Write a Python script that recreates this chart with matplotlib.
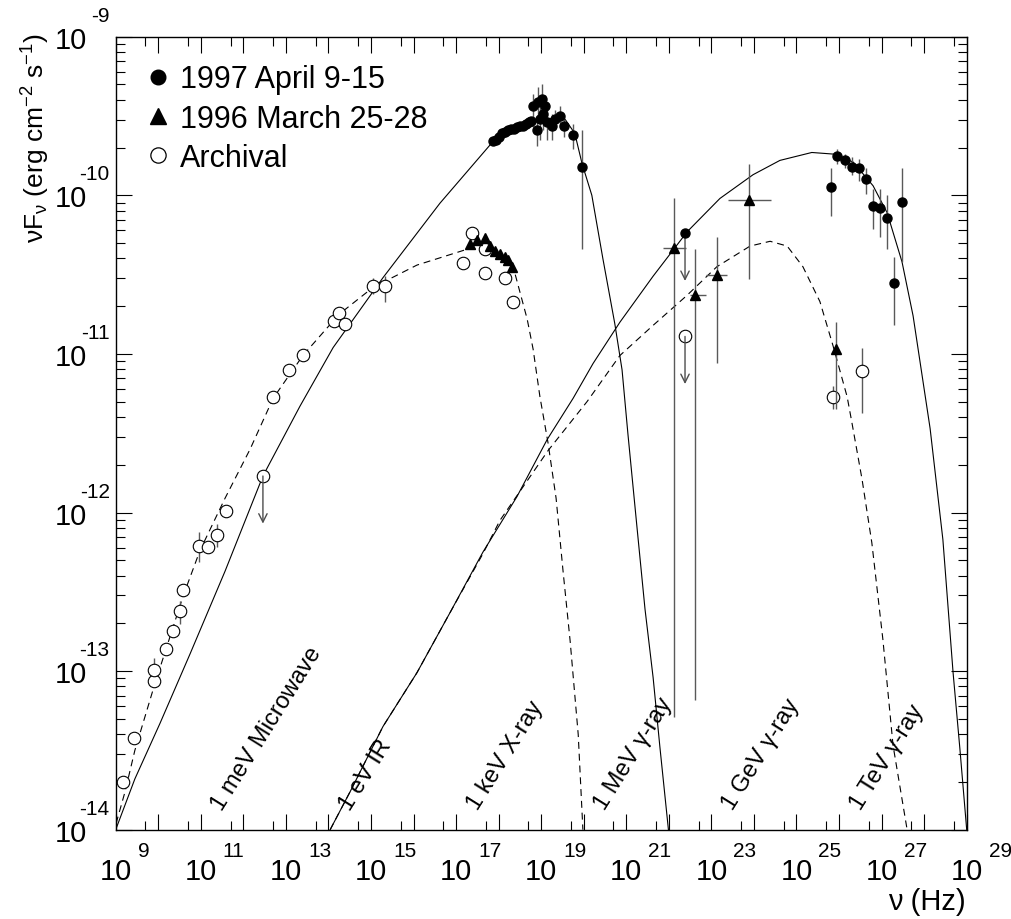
import numpy as np
import matplotlib
matplotlib.use('Agg')
import matplotlib.pyplot as plt
from matplotlib.lines import Line2D
from matplotlib.ticker import FixedLocator, NullFormatter

plt.rcParams['font.family'] = ['Liberation Sans', 'DejaVu Sans']
plt.rcParams['mathtext.fontset'] = 'custom'
plt.rcParams['mathtext.rm'] = 'Liberation Sans'
plt.rcParams['mathtext.default'] = 'regular'
plt.rcParams['lines.scale_dashes'] = False

# everything below is log10(nu [Hz]) and log10(nuFnu [erg cm-2 s-1])

# model curves
sync97_x = [9.00, 9.45, 10.04, 10.75, 11.57, 12.46, 13.33, 14.11, 15.28, 16.62, 17.87, 18.50, 18.97, 19.32,
            19.56, 19.79, 19.96, 20.19, 20.45, 20.73, 20.90, 21.04, 21.25, 21.44, 21.63, 21.79, 21.99]
sync97_y = [-14.00, -13.68, -13.33, -12.89, -12.37, -11.77, -11.33, -10.96, -10.52, -10.05, -9.66, -9.57, -9.53, -9.51,
            -9.52, -9.61, -9.80, -10.00, -10.40, -10.81, -11.10, -11.51, -12.09, -12.61, -13.04, -13.48, -14.00]

sync96_x = [9.01, 9.22, 9.45, 9.92, 10.58, 10.98, 11.57, 12.16, 12.70, 13.40, 14.25, 15.05, 16.08, 17.26,
            17.80, 18.15, 18.34, 18.46, 18.67, 18.81, 18.97, 19.16, 19.35, 19.51, 19.68, 19.87, 19.98]
sync96_y = [-13.96, -13.76, -13.50, -13.08, -12.53, -12.24, -11.91, -11.60, -11.28, -11.01, -10.75, -10.58, -10.44, -10.34,
            -10.34, -10.39, -10.45, -10.57, -10.78, -10.97, -11.27, -11.56, -11.91, -12.36, -12.81, -13.40, -14.00]

ic97_x = [14.04, 14.51, 15.28, 16.08, 16.86, 17.63, 18.43, 19.14, 19.75, 20.22, 20.85, 21.63, 22.43, 23.20,
          23.98, 24.61, 25.36, 25.86, 26.33, 26.80, 27.13, 27.48, 27.74, 28.14, 28.44, 28.68, 28.84, 29.00]
ic97_y = [-14.00, -13.76, -13.35, -13.01, -12.63, -12.25, -11.90, -11.54, -11.28, -11.06, -10.80, -10.51, -10.23, -10.02,
          -9.87, -9.78, -9.73, -9.74, -9.79, -9.94, -10.11, -10.42, -10.76, -11.47, -12.17, -13.01, -13.49, -14.00]

ic96_x = [14.04, 14.51, 15.28, 16.08, 16.86, 17.63, 18.03, 18.62, 19.16, 20.08, 20.85, 21.63, 22.43, 23.13,
          23.91, 24.38, 24.78, 25.15, 25.55, 25.86, 26.19, 26.30, 26.54, 26.77, 27.03, 27.27, 27.60]
ic96_y = [-14.00, -13.76, -13.35, -13.01, -12.63, -12.26, -12.05, -11.82, -11.61, -11.30, -11.01, -10.82, -10.63, -10.45,
          -10.32, -10.29, -10.32, -10.45, -10.67, -10.95, -11.27, -11.43, -11.79, -12.19, -12.80, -13.47, -14.00]

# 1997 April 9-15
xr97_x = [17.87, 17.94, 18.01, 18.08, 18.15, 18.22, 18.29, 18.36, 18.43, 18.50, 18.57, 18.64, 18.71, 18.76]
xr97_y = [-9.66, -9.65, -9.63, -9.61, -9.60, -9.59, -9.58, -9.58, -9.57, -9.56, -9.56, -9.55, -9.54, -9.53]

xr97e_x = [18.81, 18.90, 18.92, 18.97, 19.02, 19.04, 19.09, 19.14, 19.26, 19.33, 19.45, 19.54, 19.75, 19.96]
xr97e_y = [-9.44, -9.59, -9.41, -9.52, -9.39, -9.49, -9.44, -9.54, -9.56, -9.52, -9.50, -9.56, -9.62, -9.82]
xr97e_hi = [-9.36, -9.52, -9.32, -9.42, -9.30, -9.39, -9.37, -9.44, -9.49, -9.46, -9.44, -9.51, -9.55, -9.59]
xr97e_lo = [-9.57, -9.69, -9.53, -9.65, -9.49, -9.59, -9.53, -9.65, -9.65, -9.59, -9.57, -9.63, -9.71, -10.34]

tev97_x = [25.81, 25.95, 26.14, 26.30, 26.47, 26.63, 26.80, 26.96, 27.13, 27.29, 27.48]
tev97_y = [-9.95, -9.75, -9.78, -9.82, -9.83, -9.90, -10.07, -10.08, -10.14, -10.55, -10.04]
tev97_hi = [-9.83, -9.71, -9.74, -9.76, -9.77, -9.83, -9.96, -9.96, -10.00, -10.39, -9.83]
tev97_lo = [-10.13, -9.80, -9.83, -9.87, -9.91, -9.99, -10.21, -10.26, -10.34, -10.82, -10.42]

ul97_x = [22.38]
ul97_y = [-10.24]

# 1996 March 25-28
xr96_x = [17.33, 17.49, 17.68, 17.80, 17.91, 18.03, 18.15, 18.22, 18.31]
xr96_y = [-10.31, -10.28, -10.27, -10.32, -10.35, -10.37, -10.39, -10.41, -10.45]

gam96_x = [22.12, 22.61, 23.13, 23.88, 25.93]
gam96_y = [-10.33, -10.63, -10.50, -10.03, -10.97]
gam96_hi = [-10.02, -10.34, -10.26, -9.80, -10.80]
gam96_lo = [-13.29, -13.18, -11.06, -10.53, -11.35]
gam96_xlo = [21.86, 22.50, 22.87, 23.39, 25.93]
gam96_xhi = [22.40, 22.87, 23.37, 24.40, 25.93]

# archival
arch_x = [9.17, 9.43, 9.90, 9.90, 10.18, 10.35, 10.51, 10.58, 10.96, 11.17, 11.38, 11.59, 12.70, 13.07,
          13.40, 14.13, 14.25, 14.39, 15.05, 15.33, 17.38, 17.17, 17.68, 17.68, 18.15, 18.34, 25.86, 26.54]
arch_y = [-13.70, -13.42, -13.06, -12.99, -12.86, -12.75, -12.62, -12.49, -12.21, -12.22, -12.14, -11.99, -11.27, -11.10,
          -11.01, -10.79, -10.74, -10.81, -10.57, -10.57, -10.24, -10.43, -10.49, -10.34, -10.52, -10.67, -11.27, -11.11]
arch_hi = [-13.70, -13.42, -13.06, -12.92, -12.86, -12.75, -12.56, -12.49, -12.12, -12.22, -12.07, -11.99, -11.27, -11.10,
           -11.01, -10.79, -10.74, -10.81, -10.52, -10.51, -10.24, -10.43, -10.49, -10.34, -10.52, -10.67, -11.20, -10.96]
arch_lo = [-13.70, -13.42, -13.06, -13.08, -12.86, -12.75, -12.70, -12.49, -12.31, -12.22, -12.22, -11.99, -11.27, -11.10,
           -11.01, -10.79, -10.74, -10.81, -10.62, -10.67, -10.24, -10.43, -10.49, -10.34, -10.52, -10.67, -11.35, -11.37]

ularch_x = [12.46, 22.38]
ularch_y = [-11.77, -10.89]

band_names = ['1 meV Microwave', '1 eV IR', '1 keV X-ray', '1 MeV γ-ray', '1 GeV γ-ray', '1 TeV γ-ray']
band_nu = [2.418e11, 2.418e14, 2.418e17, 2.418e20, 2.418e23, 2.418e26]

legend_labels = ['1997 April 9-15', '1996 March 25-28', 'Archival']

x_label_exp = list(range(9, 30, 2))
y_label_exp = list(range(-14, -8))


def p(v):
    return 10.0 ** np.array(v)


def bars(y, lo, hi):
    return [p(y) - p(lo), p(hi) - p(y)]


fig = plt.figure(figsize=(10.12, 9.2), dpi=100)
ax = fig.add_axes([115.7 / 1012, 1 - 830.7 / 920, 851 / 1012, 793 / 920])
ax.set_xscale('log')
ax.set_yscale('log')
ax.set_xlim(1e9, 1e29)
ax.set_ylim(1e-14, 1e-9)

# model curves
ax.plot(p(sync97_x), p(sync97_y), color='k', lw=0.8)
ax.plot(p(ic97_x), p(ic97_y), color='k', lw=0.8)
ax.plot(p(sync96_x), p(sync96_y), color='k', lw=0.8, dashes=(5, 3.5))
ax.plot(p(ic96_x), p(ic96_y), color='k', lw=0.8, dashes=(5, 3.5))

ebar = dict(ecolor='0.35', elinewidth=1.0, capsize=0, ls='none')

# archival points
ax.errorbar(p(arch_x), p(arch_y), yerr=bars(arch_y, arch_lo, arch_hi), fmt='o', ms=9,
            mfc='white', mec='k', mew=0.8, zorder=3, **ebar)
ax.plot(p(ularch_x), p(ularch_y), 'o', ms=9, mfc='white', mec='k', mew=0.8, ls='none', zorder=3)

# 1996
ax.plot(p(xr96_x), p(xr96_y), '^', ms=7.5, color='k', ls='none', zorder=4)
ax.errorbar(p(gam96_x), p(gam96_y), yerr=bars(gam96_y, gam96_lo, gam96_hi),
            xerr=bars(gam96_x, gam96_xlo, gam96_xhi), fmt='^', ms=7.5, color='k', zorder=4, **ebar)

# 1997
ax.errorbar(p(xr97e_x), p(xr97e_y), yerr=bars(xr97e_y, xr97e_lo, xr97e_hi), fmt='o', ms=6.5,
            color='k', zorder=5, **ebar)
ax.plot(p(xr97_x), p(xr97_y), 'o', ms=6.5, color='k', ls='none', zorder=5)
ax.errorbar(p(tev97_x), p(tev97_y), yerr=bars(tev97_y, tev97_lo, tev97_hi), fmt='o', ms=6.5,
            color='k', zorder=5, **ebar)
ax.plot(p(ul97_x), p(ul97_y), 'o', ms=6.5, color='k', ls='none', zorder=5)

# upper limit arrows
for ux, uy in zip(ul97_x + ularch_x, ul97_y + ularch_y):
    ax.annotate('', xy=(10 ** ux, 10 ** (uy - 0.3)), xytext=(10 ** ux, 10 ** uy),
                arrowprops=dict(arrowstyle='->,head_length=0.6,head_width=0.3', color='0.3',
                                lw=1.0, shrinkA=0, shrinkB=0, mutation_scale=10))

# energy band labels
for name, nu in zip(band_names, band_nu):
    ax.annotate(name, xy=(nu, 0.024), xycoords=('data', 'axes fraction'), xytext=(5, 0),
                textcoords='offset pixels', rotation=58, rotation_mode='anchor',
                ha='left', va='baseline', fontsize=17)

# ticks, ROOT style
ax.xaxis.set_major_locator(FixedLocator([10.0 ** k for k in range(9, 30)]))
ax.xaxis.set_minor_locator(FixedLocator([5 * 10.0 ** k for k in range(9, 29)]))
ax.yaxis.set_major_locator(FixedLocator([10.0 ** k for k in range(-14, -8)]))
ax.yaxis.set_minor_locator(FixedLocator([m * 10.0 ** k for k in range(-14, -9) for m in range(2, 10)]))
ax.xaxis.set_major_formatter(NullFormatter())
ax.xaxis.set_minor_formatter(NullFormatter())
ax.yaxis.set_major_formatter(NullFormatter())
ax.yaxis.set_minor_formatter(NullFormatter())
ax.tick_params(which='both', direction='in', top=True, right=True, width=0.8, color='k')
ax.tick_params(which='major', length=11.5)
ax.tick_params(which='minor', length=6.5)
for s in ax.spines.values():
    s.set_linewidth(1.0)

for e in x_label_exp:
    ax.annotate('10', xy=(10.0 ** e, 0), xycoords=('data', 'axes fraction'), xytext=(0, -49),
                textcoords='offset pixels', ha='center', va='baseline', fontsize=21, annotation_clip=False)
    ax.annotate(str(e), xy=(10.0 ** e, 0), xycoords=('data', 'axes fraction'), xytext=(22, -26),
                textcoords='offset pixels', ha='left', va='baseline', fontsize=15, annotation_clip=False)

for e in y_label_exp:
    ax.annotate('10', xy=(0, 10.0 ** e), xycoords=('axes fraction', 'data'), xytext=(-29, -11),
                textcoords='offset pixels', ha='right', va='baseline', fontsize=21, annotation_clip=False)
    ax.annotate(str(e), xy=(0, 10.0 ** e), xycoords=('axes fraction', 'data'), xytext=(-6, 16),
                textcoords='offset pixels', ha='right', va='baseline', fontsize=15, annotation_clip=False)

fig.text(966 / 1012, 1 - 910 / 920, 'ν (Hz)', ha='right', va='baseline', fontsize=21)
fig.text(52 / 1012, 1 - 33 / 920, 'νF$_{ν}$ (erg cm$^{-2}$ s$^{-1}$)', rotation=90,
         ha='right', va='top', fontsize=19)

handles = [Line2D([], [], ls='none', marker='o', color='k', markersize=10.5),
           Line2D([], [], ls='none', marker='^', color='k', markersize=11),
           Line2D([], [], ls='none', marker='o', mfc='white', mec='k', mew=0.9, markersize=11)]
ax.legend(handles, legend_labels, loc='upper left', bbox_to_anchor=(0.0354, 0.965), frameon=False,
          fontsize=22, handlelength=0.8, handletextpad=0.32, labelspacing=0.30, borderpad=0,
          borderaxespad=0, numpoints=1)

fig.savefig('out.png', dpi=100)
